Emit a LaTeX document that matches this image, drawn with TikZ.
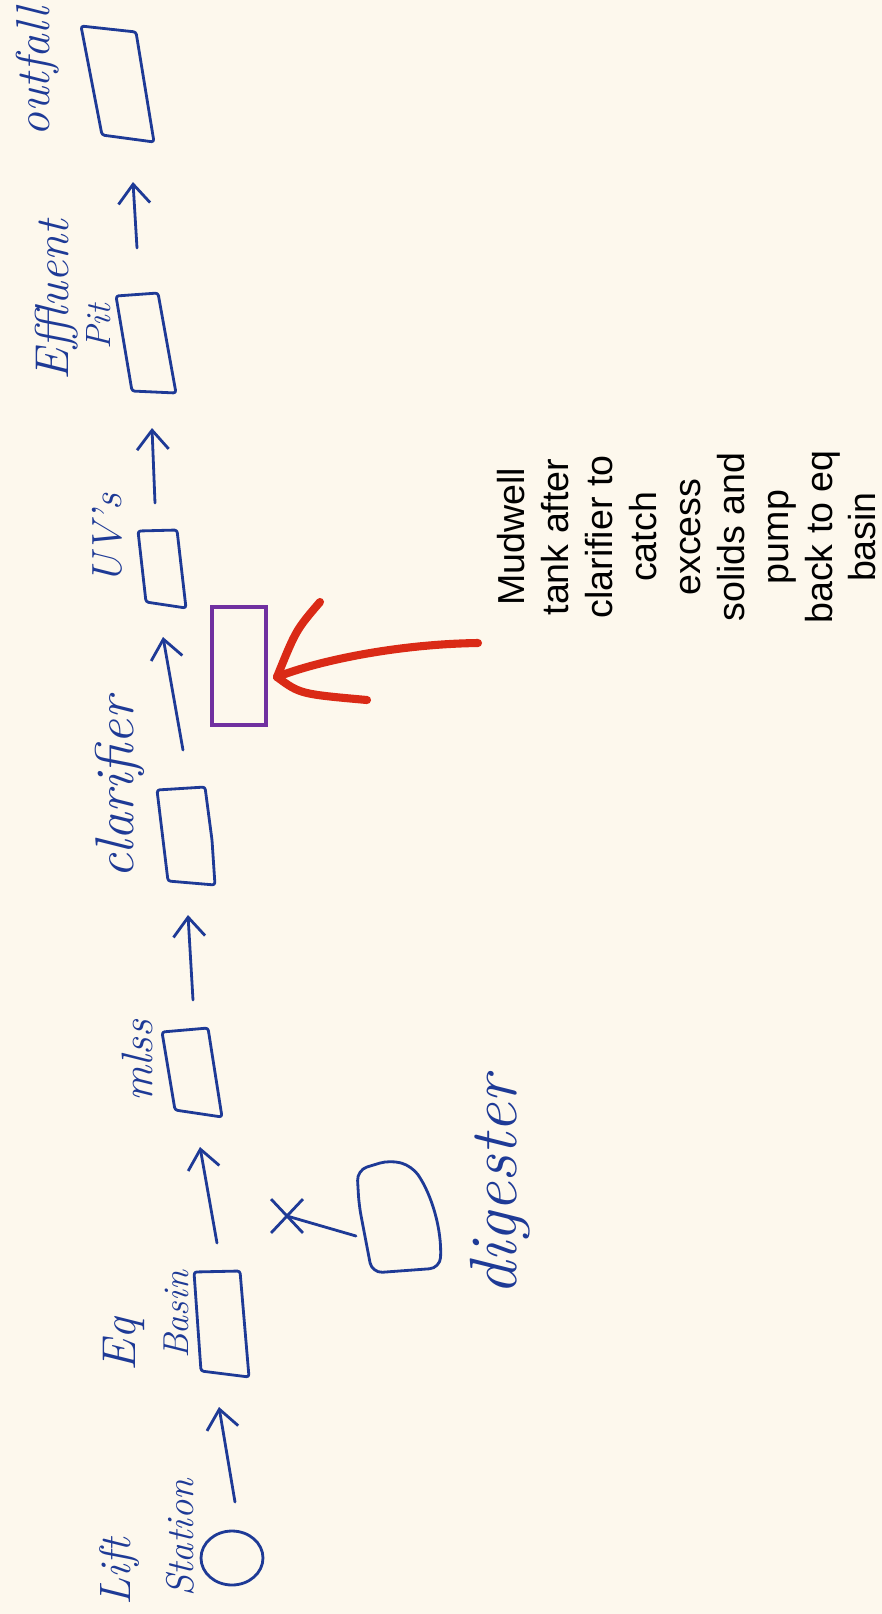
\documentclass[tikz,border=0pt]{standalone}
\usepackage{fontspec}
\newfontfamily\notefont{Liberation Sans}
\usetikzlibrary{arrows.meta,shapes.geometric,shapes.misc}
\definecolor{paper}{RGB}{253,248,237}
\definecolor{ink}{RGB}{30,58,150}
\definecolor{mudcol}{RGB}{112,48,160}
\definecolor{marker}{RGB}{218,42,22}
\begin{document}
\begin{tikzpicture}[x=0.02cm,y=-0.02cm,
  pen/.style={ink,line width=1.6pt,line join=round,line cap=round},
  flow/.style={pen,-{Straight Barb[length=11pt,width=18pt]}},
  tank/.style={pen,rounded corners=1.5pt},
  hand/.style={ink,rotate=90,inner sep=0pt,font=\itshape\fontsize{#1}{#1}\selectfont},
  redpen/.style={marker,line width=4.6pt,line cap=round,line join=round}]
\fill[paper] (0,0) rectangle (882,1614);
\useasboundingbox (0,0) rectangle (882,1614);
%\draw[very thin,gray,step=100] (0,0) grid (882,1614);
\node[ellipse,draw=ink,line width=1.6pt,minimum width=1.24cm,minimum height=1.08cm,inner sep=0pt] (lift) at (232,1558) {};
\node[hand=25pt] (liftlbl) at (120,1572) {Lift};
\node[hand=22pt] (statlbl) at (180,1538) {Station};
\draw[tank] (194,1272) -- (240,1271) -- (249,1377) -- (201,1371) -- cycle;
\node[hand=27pt] (eqlbl) at (124,1345) {Eq};
\node[hand=20.5pt] (basinlbl) at (176,1315) {Basin};
\draw[tank] (162,1032) -- (208,1028) -- (222,1117) -- (175,1110) -- cycle;
\node[hand=25pt] (mlsslbl) at (137,1061) {mlss};
\draw[tank] (157,790) -- (205,787) -- (212,840) -- (215,885) -- (168,881) -- cycle;
\node[hand=31pt] (clarlbl) at (120,788) {clarifier};
\draw[tank] (138,531) -- (177,530) -- (186,608) -- (146,602) -- cycle;
\node[hand=24pt] (uvlbl) at (107,539) {UV's};
\draw[tank] (116,296) -- (158,293) -- (176,393) -- (132,391) -- cycle;
\node[hand=27pt] (efflbl) at (57,300) {Effluent};
\node[hand=20pt] (pitlbl) at (99,327) {Pit};
\draw[tank] (81,26) -- (136,32) -- (154,142) -- (102,135) -- cycle;
\node[hand=27pt] (outlbl) at (38,72) {outfall};
\coordinate (a1) at (235,1502); \coordinate (b1) at (219,1407);
\coordinate (a2) at (217,1243); \coordinate (b2) at (200,1147);
\coordinate (a3) at (193,1000); \coordinate (b3) at (188,915);
\coordinate (a4) at (183,750);  \coordinate (b4) at (163,637);
\coordinate (a5) at (155,503);  \coordinate (b5) at (152,428);
\coordinate (a6) at (137,248);  \coordinate (b6) at (133,182);
\foreach \i in {1,...,6} \draw[flow] (a\i) -- (b\i);
\draw[tank,rounded corners=6pt] (372,1273) -- (359,1205) -- (357,1170) -- (390,1160) -- (412,1166) .. controls (432,1195) and (442,1230) .. (440,1268) -- cycle;
\node[hand=38pt] (diglbl) at (500,1186) {digester};
\node[cross out,draw=ink,line width=1.6pt,minimum width=0.58cm,minimum height=0.62cm,inner sep=0pt] (valve) at (287,1216) {};
\coordinate (digw) at (356,1236);
\draw[pen] (valve.center) -- (digw);
\node[draw=mudcol,line width=2.2pt,minimum width=1.08cm,minimum height=2.36cm,inner sep=0pt] (mud) at (239,666) {};
\coordinate (redtip) at (277,677); \coordinate (redtail) at (478,643);
\coordinate (barbup) at (320,602); \coordinate (barblo) at (367,700);
\draw[redpen] (redtail) .. controls (400,644) and (320,660) .. (redtip);
\draw[redpen] (redtip) .. controls (296,630) .. (barbup);
\draw[redpen] (redtip) .. controls (300,694) .. (barblo);
\node[rotate=90,anchor=north,inner sep=0pt,align=center,font=\notefont\fontsize{21.4pt}{25pt}\selectfont] (note) at (497,537) {Mudwell\\tank after\\clarifier to\\catch\\excess\\solids and\\pump\\back to eq\\basin};
\end{tikzpicture}
\end{document}
